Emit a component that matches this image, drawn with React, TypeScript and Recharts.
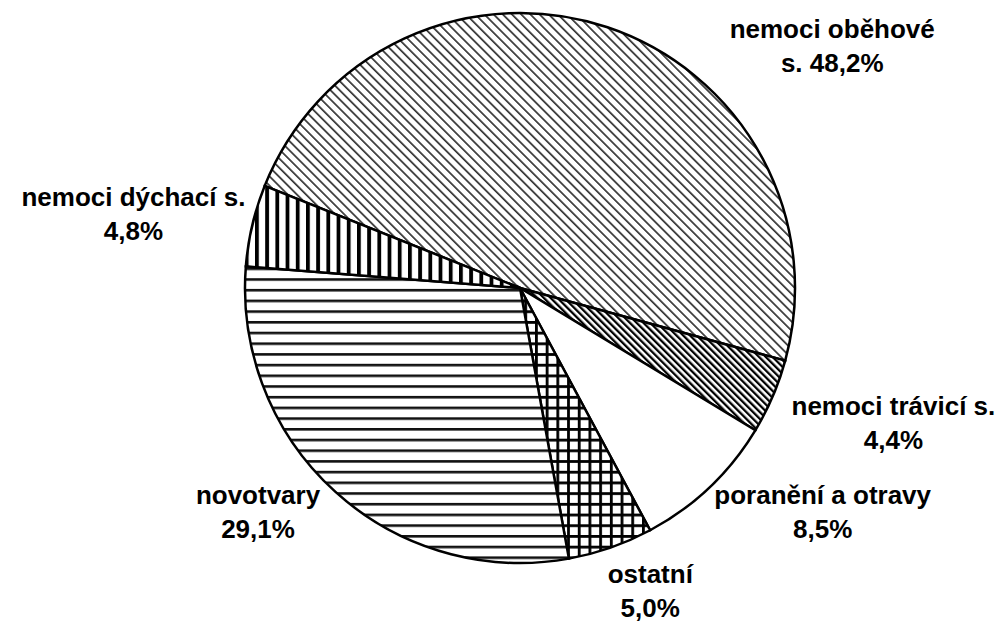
import React from 'react';
import { PieChart, Pie, Cell } from 'recharts';

// causes of death, share in %
const CAUSES = [
  'nemoci oběhové s.',
  'nemoci trávicí s.',
  'poranění a otravy',
  'ostatní',
  'novotvary',
  'nemoci dýchací s.',
];
const SHARES = [48.2, 4.4, 8.5, 5.0, 29.1, 4.8];
// text of the first label line, the rest of the name goes on the second line
const FIRST_LINES = [
  'nemoci oběhové',
  'nemoci trávicí s.',
  'poranění a otravy',
  'ostatní',
  'novotvary',
  'nemoci dýchací s.',
];

// label placement around the pie (angle in degrees, distance from centre)
const LABEL_ANGLES = [37.3, -20.2, -36.7, -66.6, -138.9, 169.6];
const LABEL_RADII = [395, 400, 380, 333, 345, 391];

const PATTERNS = ['diagLight', 'diagDark', 'white', 'grid', 'horiz', 'vert'];

const CX = 515;
const CY = 283;
const RADIUS = 275;

const data = CAUSES.map((name, i) => ({ name, value: SHARES[i] }));

const fmt = (v: number) => v.toFixed(1).replace('.', ',') + '%';

const renderLabel = (props: any) => {
  const i = props.index;
  const a = (LABEL_ANGLES[i] * Math.PI) / 180;
  const x = 518 + LABEL_RADII[i] * Math.cos(a);
  const y = 285 - LABEL_RADII[i] * Math.sin(a);
  const rest = CAUSES[i].slice(FIRST_LINES[i].length).trim();
  const second = (rest ? rest + ' ' : '') + fmt(SHARES[i]);
  return (
    <text
      x={x}
      y={y}
      textAnchor="middle"
      fill="#000"
      style={{ fontFamily: '"Liberation Sans", Arial, sans-serif', fontWeight: 'bold', fontSize: 26 }}
    >
      <tspan x={x} dy={-8}>{FIRST_LINES[i]}</tspan>
      <tspan x={x} dy={34}>{second}</tspan>
    </text>
  );
};

export default function App() {
  return (
    <div style={{ position: 'absolute', left: 0, top: 0 }}>
      <PieChart width={1000} height={622}>
        <defs>
          <pattern id="diagLight" patternUnits="userSpaceOnUse" width={6.5} height={6.5} patternTransform="rotate(-45)">
            <rect width={6.5} height={6.5} fill="#fff" />
            <rect x={0} y={0} width={1.7} height={6.5} fill="#333" />
          </pattern>
          <pattern id="diagDark" patternUnits="userSpaceOnUse" width={4.8} height={4.8} patternTransform="rotate(-45)">
            <rect width={4.8} height={4.8} fill="#fff" />
            <rect x={0} y={0} width={2.3} height={4.8} fill="#000" />
          </pattern>
          <pattern id="white" patternUnits="userSpaceOnUse" width={10} height={10}>
            <rect width={10} height={10} fill="#fff" />
          </pattern>
          <pattern id="grid" patternUnits="userSpaceOnUse" width={10.7} height={10.7}>
            <rect width={10.7} height={10.7} fill="#fff" />
            <rect x={0} y={0} width={2.8} height={10.7} fill="#000" />
            <rect x={0} y={0} width={10.7} height={2.8} fill="#000" />
          </pattern>
          <pattern id="horiz" patternUnits="userSpaceOnUse" width={10.7} height={10.7}>
            <rect width={10.7} height={10.7} fill="#fff" />
            <rect x={0} y={0} width={10.7} height={2.6} fill="#111" />
          </pattern>
          <pattern id="vert" patternUnits="userSpaceOnUse" width={10.2} height={10.2}>
            <rect width={10.2} height={10.2} fill="#fff" />
            <rect x={0} y={0} width={3.8} height={10.2} fill="#000" />
          </pattern>
        </defs>
        <Pie
          data={data}
          dataKey="value"
          nameKey="name"
          cx={CX}
          cy={CY}
          outerRadius={RADIUS}
          startAngle={158.2}
          endAngle={-201.8}
          stroke="#000"
          strokeWidth={2.5}
          labelLine={false}
          label={renderLabel}
          isAnimationActive={false}
        >
          {data.map((entry, index) => (
            <Cell key={`cell-${index}`} fill={`url(#${PATTERNS[index]})`} />
          ))}
        </Pie>
      </PieChart>
    </div>
  );
}
